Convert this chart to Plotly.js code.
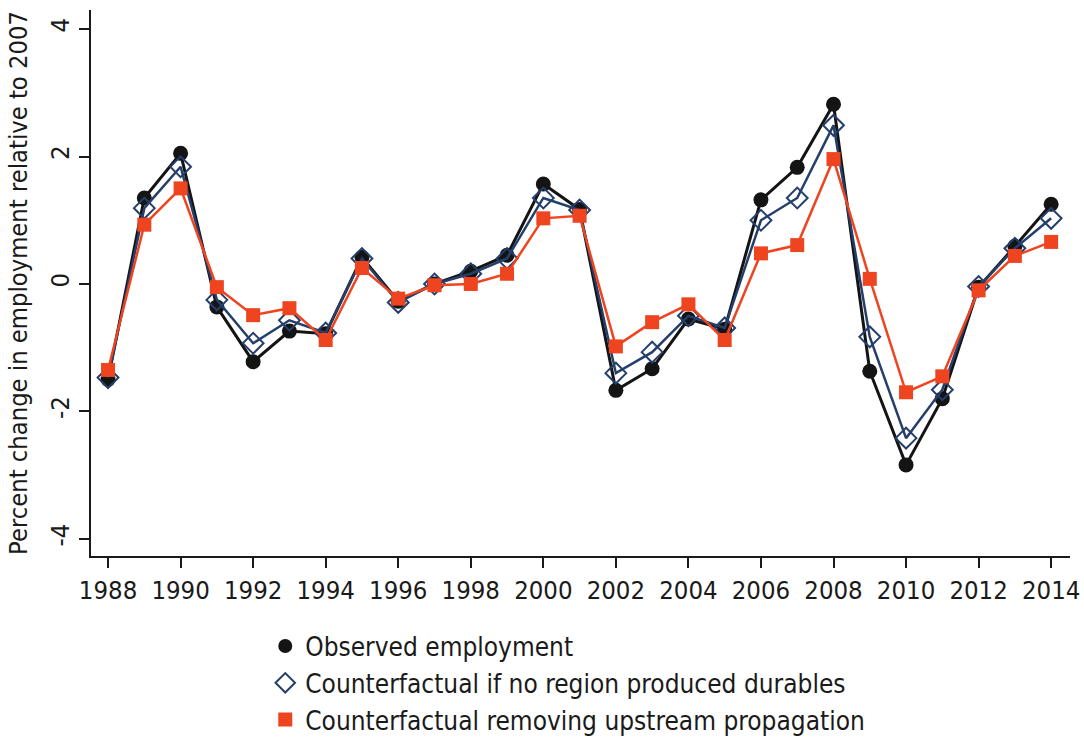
<!DOCTYPE html>
<html>
<head>
<meta charset="utf-8">
<script src="https://cdn.plot.ly/plotly-3.0.1.min.js"></script>
<style>html,body{margin:0;padding:0;background:#fff;}#chart{width:1084px;height:740px;}</style>
</head>
<body>
<div id="chart"></div>
<script>
const years = [1988,1989,1990,1991,1992,1993,1994,1995,1996,1997,1998,1999,2000,2001,2002,2003,2004,2005,2006,2007,2008,2009,2010,2011,2012,2013,2014];
const observed = [-1.50,1.35,2.05,-0.36,-1.22,-0.74,-0.78,0.42,-0.27,0.00,0.20,0.45,1.57,1.17,-1.67,-1.33,-0.55,-0.71,1.32,1.83,2.82,-1.37,-2.84,-1.80,-0.05,0.59,1.25];
const noDurables = [-1.47,1.19,1.84,-0.25,-0.93,-0.57,-0.77,0.40,-0.29,0.00,0.16,0.40,1.35,1.16,-1.40,-1.07,-0.50,-0.69,1.00,1.35,2.49,-0.83,-2.42,-1.66,-0.04,0.56,1.03];
const noUpstream = [-1.35,0.93,1.50,-0.05,-0.49,-0.38,-0.88,0.25,-0.23,-0.02,0.00,0.16,1.03,1.07,-0.98,-0.60,-0.32,-0.88,0.48,0.61,1.96,0.08,-1.70,-1.45,-0.10,0.44,0.66];
const seriesNames = ["Observed employment","Counterfactual if no region produced durables","Counterfactual removing upstream propagation"];
const xTicks = [1988,1990,1992,1994,1996,1998,2000,2002,2004,2006,2008,2010,2012,2014];
const yTicks = [-4,-2,0,2,4];

const cBlack = '#141414', cBlue = '#243f6b', cRed = '#ee4420';
const font = '"DejaVu Sans Condensed", "DejaVu Sans", sans-serif';

const traces = [
  {x: years, y: observed, mode: 'lines+markers', showlegend: false,
   line: {color: cBlack, width: 3}, marker: {symbol: 'circle', size: 15, color: cBlack}},
  {x: years, y: noDurables, mode: 'lines+markers', showlegend: false,
   line: {color: cBlue, width: 2.5}, marker: {symbol: 'diamond-open', size: 16, color: cBlue, line: {width: 2, color: cBlue}}},
  {x: years, y: noUpstream, mode: 'lines+markers', showlegend: false,
   line: {color: cRed, width: 2.5}, marker: {symbol: 'square', size: 14, color: cRed}},
  {x: [null], y: [null], mode: 'markers', name: seriesNames[0], marker: {symbol: 'circle', size: 14, color: cBlack}},
  {x: [null], y: [null], mode: 'markers', name: seriesNames[1], marker: {symbol: 'diamond-open', size: 15, color: cBlue, line: {width: 2, color: cBlue}}},
  {x: [null], y: [null], mode: 'markers', name: seriesNames[2], marker: {symbol: 'square', size: 14, color: cRed}}
];

const layout = {
  width: 1084, height: 740,
  margin: {l: 91, r: 14, t: 10, b: 184, autoexpand: false},
  paper_bgcolor: '#fff', plot_bgcolor: '#fff',
  font: {family: font, size: 24, color: '#1a1a1a'},
  xaxis: {
    range: [1987.53, 2014.52], tickvals: xTicks, ticktext: xTicks.map(String),
    showgrid: false, zeroline: false, showline: true, linecolor: '#1a1a1a', linewidth: 2,
    ticks: 'outside', ticklen: 10, tickwidth: 2, tickcolor: '#1a1a1a',
    tickfont: {family: font, size: 25.5, color: '#1a1a1a'}
  },
  yaxis: {
    range: [-4.27, 4.3], tickvals: yTicks, ticktext: yTicks.map(String),
    showgrid: false, zeroline: false, showline: true, linecolor: '#1a1a1a', linewidth: 2,
    ticks: 'outside', ticklen: 10, tickwidth: 2, tickcolor: '#1a1a1a', tickangle: -90,
    tickfont: {family: font, size: 25.5, color: '#1a1a1a'},
    title: {text: 'Percent change in employment relative to 2007', font: {family: font, size: 25.3, color: '#1a1a1a'}, standoff: 10}
  },
  legend: {
    x: 0.178, y: -0.122, xanchor: 'left', yanchor: 'top', orientation: 'v',
    font: {family: font, size: 26, color: '#1a1a1a'}, bgcolor: 'rgba(0,0,0,0)', tracegroupgap: 0
  },
  showlegend: true
};

Plotly.newPlot('chart', traces, layout, {displayModeBar: false, staticPlot: true});
</script>
</body>
</html>
